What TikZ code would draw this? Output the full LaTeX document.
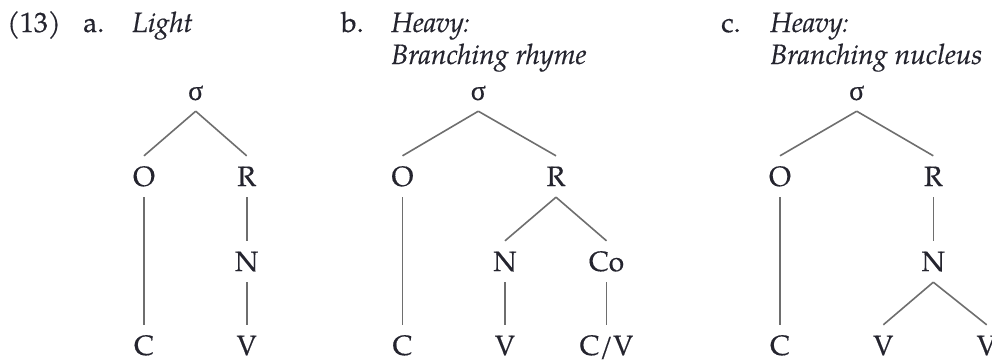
\documentclass[tikz,border=0pt]{standalone}
\usepackage{fontspec}
\setmainfont{texgyrepagella}[Extension=.otf,UprightFont=*-regular,ItalicFont=*-italic,BoldFont=*-bold,BoldItalicFont=*-bolditalic,FakeBold=0.4]
\newfontfamily\grk{Liberation Serif}[FakeBold=0.4]
\definecolor{ink}{HTML}{24242E}
\definecolor{branch}{HTML}{6E6E6E}
\begin{document}
\begin{tikzpicture}[x=1pt,y=-1pt,
  every node/.style={text=ink,font=\fontsize{28}{32}\selectfont},
  head/.style={anchor=base west,inner sep=0pt},
  seg/.style={anchor=base,inner xsep=0pt,inner ysep=11pt,text height=19pt,text depth=0pt},
  branchline/.style={draw=branch,line width=1.6pt}]
\useasboundingbox (0,0) rectangle (992,360);

% headings
\node[head] (ex) at (7,32) {(13)};
\node[head] (la) at (83,32) {a.};
\node[head] (ta) at (132,32) {\itshape Light};
\node[head] (lb) at (341,32) {b.};
\node[head] (tb1) at (391,32) {\itshape Heavy:};
\node[head] (tb2) at (391,64) {\itshape Branching rhyme};
\node[head] (lc) at (721,32) {c.};
\node[head] (tc1) at (770,32) {\itshape Heavy:};
\node[head] (tc2) at (770,64) {\itshape Branching nucleus};

% (a) light syllable
\node[seg] (aS) at (195.7,100) {\grk σ};
\node[seg] (aO) at (144,186) {O};
\node[seg] (aR) at (246.7,186) {R};
\node[seg] (aN) at (246.7,271) {N};
\node[seg] (aC) at (144,355) {C};
\node[seg] (aV) at (246.7,355) {V};
\draw[branchline] (aS.south) -- (aO.north);
\draw[branchline] (aS.south) -- (aR.north);
\draw[branchline] (aO.south) -- (aC.north);
\draw[branchline] (aR.south) -- (aN.north);
\draw[branchline] (aN.south) -- (aV.north);

% (b) branching rhyme
\node[seg] (bS) at (478.3,100) {\grk σ};
\node[seg] (bO) at (402.5,186) {O};
\node[seg] (bR) at (556,186) {R};
\node[seg] (bN) at (505,271) {N};
\node[seg] (bCo) at (606.5,271) {Co};
\node[seg] (bC) at (402.5,355) {C};
\node[seg] (bV) at (505,355) {V};
\node[seg] (bCV) at (606.5,355) {C/V};
\draw[branchline] (bS.south) -- (bO.north);
\draw[branchline] (bS.south) -- (bR.north);
\draw[branchline] (bO.south) -- (bC.north);
\draw[branchline] (bR.south) -- (bN.north);
\draw[branchline] (bR.south) -- (bCo.north);
\draw[branchline] (bN.south) -- (bV.north);
\draw[branchline] (bCo.south) -- (bCV.north);

% (c) branching nucleus
\node[seg] (cS) at (856.7,100) {\grk σ};
\node[seg] (cO) at (780,186) {O};
\node[seg] (cR) at (933.3,186) {R};
\node[seg] (cN) at (933.3,271) {N};
\node[seg] (cC) at (780,355) {C};
\node[seg] (cV1) at (883.3,355) {V};
\node[seg] (cV2) at (986.7,355) {V};
\draw[branchline] (cS.south) -- (cO.north);
\draw[branchline] (cS.south) -- (cR.north);
\draw[branchline] (cO.south) -- (cC.north);
\draw[branchline] (cR.south) -- (cN.north);
\draw[branchline] (cN.south) -- (cV1.north);
\draw[branchline] (cN.south) -- (cV2.north);
\end{tikzpicture}
\end{document}
